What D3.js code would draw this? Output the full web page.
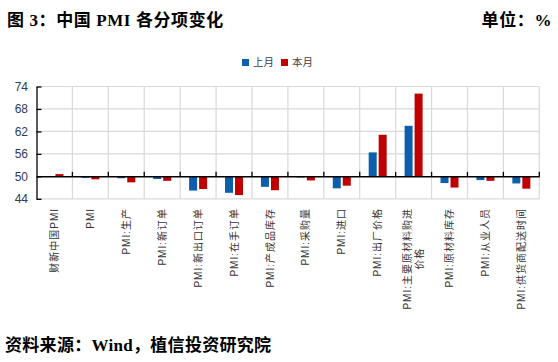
<!DOCTYPE html>
<html lang="zh">
<head>
    <meta charset="UTF-8">
    <script src="https://d3js.org/d3.v7.min.js"></script>
    <title>中国 PMI 各分项变化</title>
    <style>
        body { margin: 0; background: #fff; }
        svg { display: block; }
    </style>
</head>
<body>
    <figure style="margin:0"></figure>
    <script>
        // data
        const categories = ["财新中国PMI", "PMI", "PMI:生产", "PMI:新订单", "PMI:新出口订单",
            "PMI:在手订单", "PMI:产成品库存", "PMI:采购量", "PMI:进口", "PMI:出厂价格",
            "PMI:主要原材料购进\n价格", "PMI:原材料库存", "PMI:从业人员", "PMI:供货商配送时间"];
        const lastMonth = [50.0, 49.6, 49.5, 49.3, 46.2, 45.6, 47.2, 49.7, 46.8, 56.4, 63.5, 48.2, 49.0, 48.1];
        const thisMonth = [50.6, 49.2, 48.4, 48.8, 46.6, 45.0, 46.3, 48.9, 47.5, 61.1, 72.1, 47.0, 48.8, 46.7];
        const seriesNames = ["上月", "本月"];
        const yTicks = [44, 50, 56, 62, 68, 74];

        const w = 558;
        const h = 362;
        const plotL = 36.5, plotR = 539.3, plotT = 86.5, plotB = 198.8;
        const colors = ["#0B5FAD", "#C00000"];
        const serif = "'Liberation Serif', 'Noto Sans CJK SC', serif";
        const sans = "'Liberation Sans', 'Noto Sans CJK SC', sans-serif";

        const svg = d3.select("figure").append("svg")
            .attr("width", w)
            .attr("height", h);

        // title row
        svg.append("text")
            .attr("x", 7).attr("y", 26)
            .attr("font-family", serif).attr("font-weight", "bold").attr("font-size", 17)
            .attr("letter-spacing", 0.6)
            .text("图 3：中国 PMI 各分项变化");
        svg.append("text")
            .attr("x", 552).attr("y", 26)
            .attr("text-anchor", "end")
            .attr("font-family", serif).attr("font-weight", "bold").attr("font-size", 17)
            .attr("letter-spacing", 0.6)
            .text("单位：%");

        // scales
        const xScale = d3.scaleBand()
            .domain(categories)
            .range([plotL, plotR])
            .padding(0);
        const yScale = d3.scaleLinear()
            .domain([44, 74])
            .range([plotB, plotT]);

        // gridlines
        const grid = svg.append("g").attr("stroke", "#D9D9D9").attr("stroke-width", 1.2);
        grid.selectAll("line.h")
            .data(yTicks.filter(t => t !== 50))
            .join("line")
            .attr("class", "h")
            .attr("x1", plotL).attr("x2", plotR)
            .attr("y1", d => yScale(d)).attr("y2", d => yScale(d));
        grid.selectAll("line.v")
            .data(categories.slice(1).map(c => xScale(c)).concat([plotR]))
            .join("line")
            .attr("class", "v")
            .attr("x1", d => d).attr("x2", d => d)
            .attr("y1", plotT).attr("y2", plotB);

        // bars
        const barW = 8;
        [lastMonth, thisMonth].forEach((vals, s) => {
            svg.append("g").selectAll("rect")
                .data(vals)
                .join("rect")
                .attr("x", (d, i) => xScale(categories[i]) + xScale.bandwidth() / 2 + (s === 0 ? -barW - 1 : 1))
                .attr("y", d => Math.min(yScale(d), yScale(50)))
                .attr("width", barW)
                .attr("height", d => Math.abs(yScale(d) - yScale(50)))
                .attr("fill", colors[s]);
        });

        // y axis, ticks inside
        const yAxis = d3.axisLeft(yScale)
            .tickValues(yTicks)
            .tickSizeInner(-5)
            .tickSizeOuter(0)
            .tickPadding(8.5);
        const yg = svg.append("g")
            .attr("transform", "translate(" + plotL + ",0)")
            .call(yAxis);
        yg.select(".domain").attr("stroke", "#000").attr("stroke-width", 1.3);
        yg.selectAll(".tick line").attr("stroke", "#000").attr("stroke-width", 1.3);
        yg.selectAll(".tick text")
            .attr("font-family", sans).attr("font-size", 12).attr("fill", "#2F3A56");

        // x axis on the 50 line, ticks upward at category boundaries
        const xAxis = d3.axisTop(xScale).tickSize(0).tickFormat("");
        const xg = svg.append("g")
            .attr("transform", "translate(0," + yScale(50) + ")")
            .call(xAxis);
        xg.select(".domain").attr("stroke", "#000").attr("stroke-width", 1.5);
        xg.selectAll("line.bound")
            .data(categories.slice(1).map(c => xScale(c)).concat([plotR]))
            .join("line")
            .attr("class", "bound")
            .attr("x1", d => d).attr("x2", d => d)
            .attr("y1", 0).attr("y2", -4.5)
            .attr("stroke", "#000").attr("stroke-width", 1.3);

        // category labels, rotated, ending at the top
        const labelTop = 208;
        categories.forEach(c => {
            const cx = xScale(c) + xScale.bandwidth() / 2;
            const lines = c.split("\n");
            const off = lines.length > 1 ? -5.8 : 0;
            const t1 = svg.append("text")
                .attr("transform", "translate(" + (cx + off) + "," + labelTop + ") rotate(-90)")
                .attr("text-anchor", "end")
                .attr("dy", "0.36em")
                .attr("letter-spacing", 1)
                .attr("font-family", sans).attr("font-size", 10).attr("fill", "#333")
                .text(lines[0]);
            if (lines.length > 1) {
                const len = t1.node().getComputedTextLength();
                svg.append("text")
                    .attr("transform", "translate(" + (cx - off) + "," + (labelTop + len / 2) + ") rotate(-90)")
                    .attr("text-anchor", "middle")
                    .attr("dy", "0.36em")
                    .attr("letter-spacing", 1)
                    .attr("font-family", sans).attr("font-size", 10).attr("fill", "#333")
                    .text(lines[1]);
            }
        });

        // legend
        const legend = svg.append("g").attr("transform", "translate(242,59)");
        const legX = [0, 39];
        seriesNames.forEach((n, i) => {
            legend.append("rect")
                .attr("x", legX[i]).attr("y", 0)
                .attr("width", 7).attr("height", 7)
                .attr("fill", colors[i]);
            legend.append("text")
                .attr("x", legX[i] + 11).attr("y", 3.5)
                .attr("dy", "0.36em")
                .attr("font-family", sans).attr("font-size", 10.5).attr("fill", "#404040")
                .text(n);
        });

        // source
        svg.append("text")
            .attr("x", 5).attr("y", 351)
            .attr("font-family", serif).attr("font-weight", "bold").attr("font-size", 17)
            .attr("letter-spacing", 0.3)
            .text("资料来源：Wind，植信投资研究院");
    </script>
</body>
</html>
